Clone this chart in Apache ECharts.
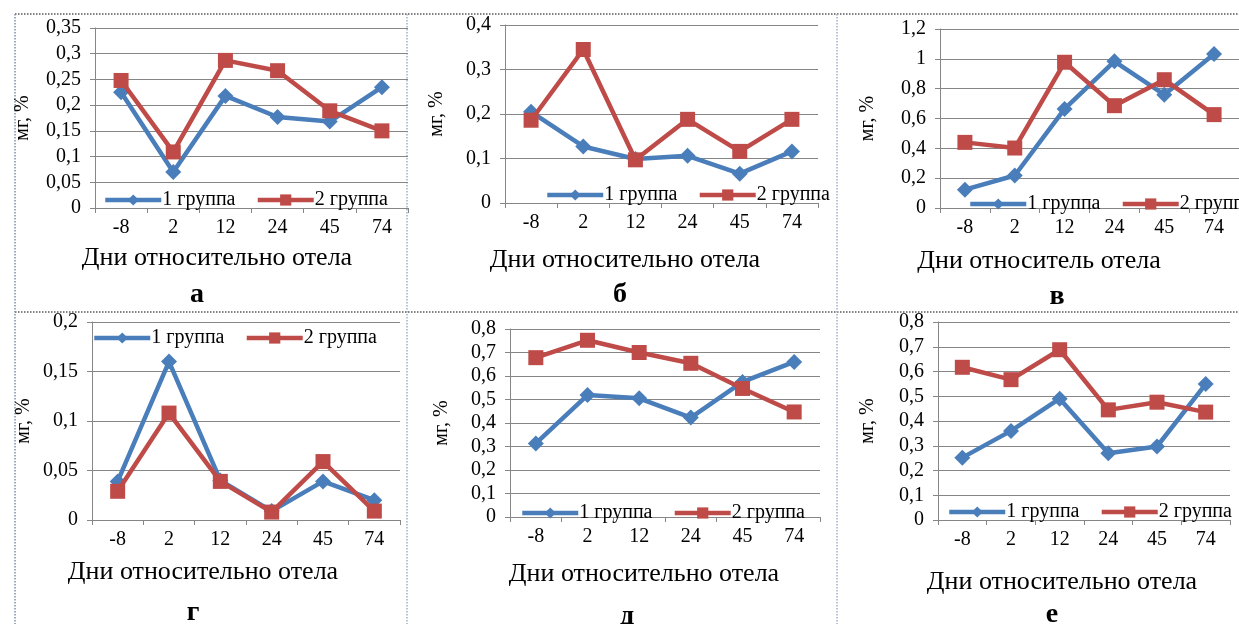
<!DOCTYPE html>
<html>
<head>
<meta charset="utf-8">
<script src="https://cdn.jsdelivr.net/npm/echarts@6/dist/echarts.min.js"></script>
<style>
  html, body { margin: 0; padding: 0; background: #fff; }
  #chart { width: 1239px; height: 624px; }
</style>
</head>
<body>
<div id="chart"></div>
<script>
// дни относительно отела
const days = ['-8', '2', '12', '24', '45', '74'];
const seriesNames = ['1 группа', '2 группа'];

// а
const aGroup1 = [0.225, 0.07, 0.218, 0.177, 0.168, 0.235];
const aGroup2 = [0.248, 0.109, 0.287, 0.267, 0.189, 0.15];
// б
const bGroup1 = [0.205, 0.127, 0.099, 0.106, 0.066, 0.116];
const bGroup2 = [0.186, 0.345, 0.097, 0.188, 0.116, 0.188];
// в
const vGroup1 = [0.123, 0.218, 0.664, 0.983, 0.76, 1.032];
const vGroup2 = [0.44, 0.402, 0.977, 0.686, 0.86, 0.626];
// г
const gGroup1 = [0.039, 0.16, 0.04, 0.009, 0.039, 0.02];
const gGroup2 = [0.029, 0.108, 0.039, 0.008, 0.059, 0.009];
// д
const dGroup1 = [0.313, 0.519, 0.505, 0.423, 0.575, 0.66];
const dGroup2 = [0.678, 0.752, 0.7, 0.654, 0.547, 0.447];
// е
const eGroup1 = [0.252, 0.36, 0.49, 0.27, 0.297, 0.549];
const eGroup2 = [0.617, 0.567, 0.688, 0.445, 0.476, 0.436];

// y axis limits
const yMax = [0.35, 0.4, 1.2, 0.2, 0.8, 0.8];
const yStep = [0.05, 0.1, 0.2, 0.05, 0.1, 0.1];

const panelLetters = ['а', 'б', 'в', 'г', 'д', 'е'];
const xTitles = ['Дни относительно отела', 'Дни относительно отела', 'Дни относитель отела',
  'Дни относительно отела', 'Дни относительно отела', 'Дни относительно отела'];
const yTitle = 'мг, %';

const blue = '#4a7ebb';
const red = '#be4b48';
const serif = '"Liberation Serif", "DejaVu Serif", serif';

const panels = [
  { g1: aGroup1, g2: aGroup2, grid: [95, 28, 313, 180], yGap: 62, legend: [98, 185], xt: [217, 258], lt: [197, 295] },
  { g1: bGroup1, g2: bGroup2, grid: [505, 25, 313, 178], yGap: 58, legend: [540, 180], xt: [625, 260], lt: [620, 295] },
  { g1: vGroup1, g2: vGroup2, grid: [940, 29, 299, 179], yGap: 62, legend: [963, 189], xt: [1039, 261], lt: [1057, 297] },
  { g1: gGroup1, g2: gGroup2, grid: [92, 322, 308, 198], yGap: 58, legend: [87, 323], xt: [203, 572], lt: [193, 613] },
  { g1: dGroup1, g2: dGroup2, grid: [510, 329, 310, 188], yGap: 58, legend: [515, 498], xt: [644, 574], lt: [627, 617] },
  { g1: eGroup1, g2: eGroup2, grid: [938, 322, 292, 198], yGap: 60, legend: [942, 497], xt: [1062, 582], lt: [1052, 615] }
];

const chart = echarts.init(document.getElementById('chart'));

const grid = [], xAxis = [], yAxis = [], series = [], legend = [];

panels.forEach(function (p, i) {
  grid.push({ left: p.grid[0], top: p.grid[1], width: p.grid[2], height: p.grid[3] });
  xAxis.push({
    type: 'category',
    gridIndex: i,
    data: days,
    boundaryGap: true,
    axisLine: { lineStyle: { color: '#868686', width: 1 } },
    axisTick: { show: true, length: 5, lineStyle: { color: '#868686' } },
    axisLabel: { color: '#000', fontFamily: serif, fontSize: 20, margin: 10 }
  });
  yAxis.push({
    type: 'value',
    gridIndex: i,
    min: 0,
    max: yMax[i],
    interval: yStep[i],
    name: yTitle,
    nameLocation: 'middle',
    nameGap: p.yGap,
    nameRotate: 90,
    nameTextStyle: { color: '#000', fontFamily: serif, fontSize: 20 },
    axisLine: { show: true, lineStyle: { color: '#868686' } },
    axisTick: { show: true, length: 5, lineStyle: { color: '#868686' } },
    splitLine: { lineStyle: { color: '#868686', width: 1 } },
    axisLabel: {
      color: '#000', fontFamily: serif, fontSize: 20, margin: 14,
      formatter: function (v) { return String(+v.toFixed(2)).replace('.', ','); }
    }
  });
  series.push({
    name: seriesNames[0], type: 'line', xAxisIndex: i, yAxisIndex: i,
    data: p.g1, symbol: 'diamond', symbolSize: 16,
    lineStyle: { color: blue, width: 4.5 }, itemStyle: { color: blue },
    z: 3
  });
  series.push({
    name: seriesNames[1], type: 'line', xAxisIndex: i, yAxisIndex: i,
    data: p.g2, symbol: 'rect', symbolSize: 15,
    lineStyle: { color: red, width: 4.5 }, itemStyle: { color: red },
    z: 4
  });
  legend.push({
    left: p.legend[0], top: p.legend[1],
    width: 420,
    orient: 'horizontal',
    data: [
      { name: seriesNames[0], itemStyle: { color: blue } },
      { name: seriesNames[1], itemStyle: { color: red } }
    ],
    itemWidth: 56, itemHeight: 14, itemGap: 20,
    selectedMode: false,
    lineStyle: { width: 4.5 },
    textStyle: { color: '#000', fontFamily: serif, fontSize: 20, padding: [0, 0, 0, -4] }
  });
});

// рамки между панелями
const frames = [
  [15, 14, 1239, 14, '#555'],
  [15, 312, 1239, 312, '#555'],
  [15, 14, 15, 624, '#7d8fa6'],
  [407, 14, 407, 624, '#9fb0c6'],
  [837, 14, 837, 624, '#9fb0c6']
];

const gfx = [];
frames.forEach(function (f) {
  gfx.push({
    type: 'line', silent: true, z: 0,
    shape: { x1: f[0], y1: f[1], x2: f[2], y2: f[3] },
    style: { stroke: f[4], lineWidth: 1.5, lineDash: [1.5, 1.5] }
  });
});
panels.forEach(function (p, i) {
  gfx.push({
    type: 'text', z: 10, x: p.xt[0], y: p.xt[1],
    style: { text: xTitles[i], fill: '#000', font: '26px ' + serif, align: 'center', verticalAlign: 'middle' }
  });
  gfx.push({
    type: 'text', z: 10, x: p.lt[0], y: p.lt[1],
    style: { text: panelLetters[i], fill: '#000', font: 'bold 28px ' + serif, align: 'center', verticalAlign: 'middle' }
  });
});

chart.setOption({
  animation: false,
  backgroundColor: '#fff',
  grid: grid,
  xAxis: xAxis,
  yAxis: yAxis,
  legend: legend,
  series: series,
  graphic: { elements: gfx }
});
</script>
</body>
</html>
